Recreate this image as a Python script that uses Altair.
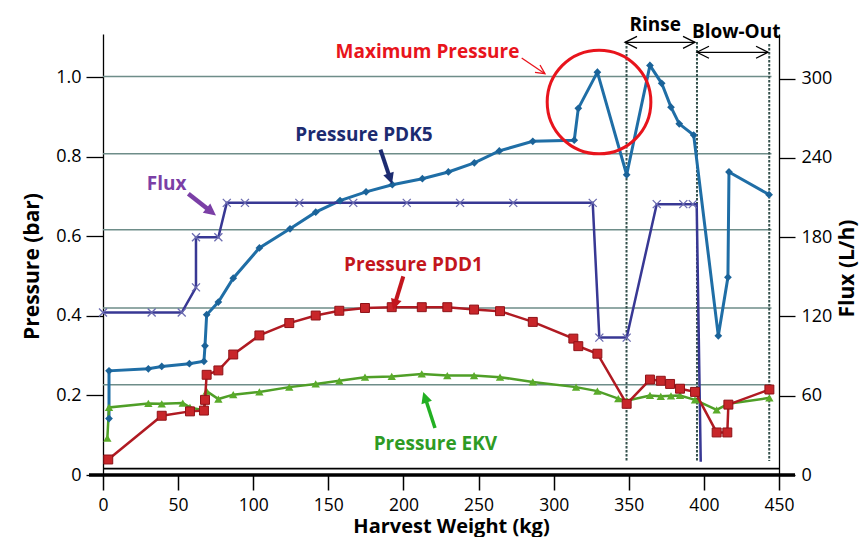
import math
import altair as alt
import pandas as pd

# ---------------- data ----------------
pdk5_kg = [4.0, 4.0, 30.2, 39.1, 57.5, 67.2, 67.9, 69.0, 76.8, 86.7,
           104.1, 124.5, 141.6, 157.8, 175.1, 192.6, 212.6, 229.9, 247.2, 263.8,
           286.1, 313.7, 316.4, 329.1, 348.6, 364.1, 371.9, 378.1, 383.6, 393.2,
           409.6, 416.0, 416.7, 443.4]
pdk5_p = [0.142, 0.262, 0.267, 0.273, 0.280, 0.286, 0.325, 0.403, 0.435, 0.495,
          0.571, 0.619, 0.661, 0.690, 0.712, 0.730, 0.745, 0.762, 0.785, 0.815,
          0.839, 0.842, 0.922, 1.013, 0.755, 1.030, 0.985, 0.925, 0.883, 0.855,
          0.350, 0.497, 0.762, 0.705]

pdd1_kg = [3.5, 39.1, 57.9, 67.2, 67.9, 69.0, 76.8, 86.7, 104.1, 124.0,
           141.6, 157.3, 174.4, 192.2, 212.2, 229.2, 247.0, 264.3, 286.1, 313.1,
           316.4, 329.1, 348.6, 364.1, 371.3, 377.5, 384.1, 394.1, 408.5, 415.6,
           416.3, 443.6]
pdd1_p = [0.039, 0.149, 0.160, 0.162, 0.189, 0.252, 0.263, 0.303, 0.351, 0.382,
          0.401, 0.413, 0.420, 0.422, 0.422, 0.422, 0.416, 0.412, 0.385, 0.343,
          0.324, 0.305, 0.179, 0.240, 0.237, 0.229, 0.217, 0.209, 0.107, 0.107,
          0.177, 0.215]

ekv_kg = [2.9, 4.0, 30.2, 39.1, 53.1, 57.9, 67.2, 69.0, 76.8, 86.7,
          104.1, 124.0, 141.6, 157.3, 174.4, 192.2, 212.2, 229.2, 247.0, 264.3,
          286.1, 314.9, 329.1, 343.0, 348.6, 364.1, 371.3, 378.1, 384.1, 394.1,
          408.5, 416.3, 443.6]
ekv_p = [0.093, 0.170, 0.180, 0.179, 0.181, 0.170, 0.162, 0.211, 0.191, 0.202,
         0.209, 0.221, 0.229, 0.237, 0.246, 0.248, 0.254, 0.250, 0.250, 0.246,
         0.234, 0.221, 0.211, 0.192, 0.187, 0.200, 0.198, 0.199, 0.200, 0.189,
         0.164, 0.179, 0.194]

flux_kg = [0.0, 32.4, 52.4, 61.9, 61.9, 76.8, 82.4, 94.5, 130.7, 166.6,
           202.2, 237.7, 273.1, 326.0, 330.4, 348.6, 368.6, 386.3, 392.6, 395.2,
           397.9]
flux_lh = [123, 123, 123, 142, 180, 180, 206, 206, 206, 206,
           206, 206, 206, 206, 104, 104, 205, 205, 205, 205,
           10]
flux_marked = [True] * 19 + [False, False]

grid_levels = [0.227, 0.420, 0.617, 0.808, 1.002]
grid_x_end = 445

phase_kg = [348.5, 395.4, 443.5]
phase_top = [1.089, 1.089, 1.084]
phase_bottom = 0.035

x_ticks = [0, 50, 100, 150, 200, 250, 300, 350, 400, 450]
p_ticks = [0, 0.2, 0.4, 0.6, 0.8, 1.0]
f_ticks = [0, 60, 120, 180, 240, 300]

labels = ["Maximum Pressure", "Pressure PDK5", "Flux", "Pressure PDD1",
          "Pressure EKV", "Rinse", "Blow-Out"]
label_kg = [216.0, 173.7, 42.4, 206.7, 221.3, 367.6, 421.5]
label_p = [1.0485, 0.8406, 0.7159, 0.5137, 0.0636, 1.1157, 1.0988]
label_color = ["#e8141c", "#1c2b70", "#7b3fa6", "#c3161d", "#2e9b24", "black", "black"]

circle_kg = [330.2]
circle_p = [0.938]

# arrows: start kg, start p, tip kg, tip p, colour, width, head kind, head length, double
arrows = [
    (56.8, 0.7073, 75.2, 0.6525, "#7b3fa6", 4.5, "filled", 12, False),
    (184.7, 0.8180, 192.4, 0.7317, "#1c2b70", 4.0, "filled", 11, False),
    (199.9, 0.4996, 193.1, 0.4149, "#c3161d", 4.0, "filled", 11, False),
    (221.0, 0.1182, 213.2, 0.2087, "#22b022", 3.5, "filled", 11, False),
    (278.7, 1.0485, 294.2, 1.0090, "#e8141c", 1.3, "open", 9, False),
    (347.5, 1.0880, 394.1, 1.0880, "black", 1.3, "open", 12, True),
    (395.4, 1.0630, 442.7, 1.0630, "black", 1.3, "open", 12, True),
]

# ---------------- layout ----------------
W, H = 676, 441
X_MAX, P_MAX, F_MAX = 450, 1.109, 333.8
FONT = "Open Sans"
TRI = "M0,0L-0.5,1L0.5,1Z"
CHEV = "M-0.5,1L0,0L0.5,1"
XMARK = "M-1,-1L1,1M-1,1L1,-1"

x_axis = alt.Axis(values=x_ticks, title="Harvest Weight (kg)", grid=False, domain=False,
                  tickSize=15, tickWidth=1.5, tickColor="black",
                  labelFont=FONT, labelFontSize=17.5, labelColor="black",
                  labelBaseline="alphabetic", labelPadding=20.5, labelFlush=False,
                  labelOverlap=False,
                  titleFont=FONT, titleFontSize=20, titleFontWeight="bold", titleColor="black",
                  titleX=348, titleY=57, titleAlign="center", titleBaseline="alphabetic")
y_axis = alt.Axis(values=p_ticks,
                  labelExpr="datum.value == 0 ? '0' : format(datum.value, '.1f')",
                  title="Pressure (bar)", grid=False,
                  domainColor="black", domainWidth=1.3,
                  tickSize=17, tickWidth=1.3, tickColor="black",
                  labelFont=FONT, labelFontSize=18, labelColor="black", labelPadding=5,
                  labelOverlap=False,
                  titleFont=FONT, titleFontSize=21, titleFontWeight="bold", titleColor="black",
                  titleAngle=270, titleX=-71, titleY=232, titleAlign="center",
                  titleBaseline="middle")
f_axis = alt.Axis(orient="right", values=f_ticks, title="Flux (L/h)", grid=False,
                  domainColor="black", domainWidth=1.3,
                  tickSize=16, tickWidth=1.3, tickColor="black",
                  labelFont=FONT, labelFontSize=18, labelColor="black", labelPadding=6,
                  labelOverlap=False,
                  titleFont=FONT, titleFontSize=21, titleFontWeight="bold", titleColor="black",
                  titleAngle=270, titleX=68, titleY=234, titleAlign="center",
                  titleBaseline="middle")


def xs():
    return alt.Scale(domain=[0, X_MAX], nice=False, zero=False)


def ys():
    return alt.Scale(domain=[0, P_MAX], nice=False, zero=False)


def fs():
    return alt.Scale(domain=[0, F_MAX], nice=False, zero=False)


def X(f):
    # identical axis definition on every layer so that the shared x axis merges cleanly
    return alt.X(f"{f}:Q", scale=xs(), axis=x_axis)


def Y(f):
    return alt.Y(f"{f}:Q", scale=ys(), axis=None)


def series(kg, vals, name):
    return pd.DataFrame({"kg": kg, name: vals, "i": list(range(len(kg)))})


pdk5_df = series(pdk5_kg, pdk5_p, "p")
pdd1_df = series(pdd1_kg, pdd1_p, "p")
ekv_df = series(ekv_kg, ekv_p, "p")
flux_df = series(flux_kg, flux_lh, "f")
flux_pts_df = flux_df[flux_marked]

grid_df = pd.DataFrame({"g": grid_levels, "x0": 0, "x1": grid_x_end})
phase_df = pd.DataFrame({"kg": phase_kg, "top": phase_top, "bot": phase_bottom})
label_df = pd.DataFrame({"label": labels, "kg": label_kg, "p": label_p, "color": label_color})
circle_df = pd.DataFrame({"kg": circle_kg, "p": circle_p})

# arrows -> line segments and heads
sx, sy = W / X_MAX, H / P_MAX
rule_rows, head_f, head_o = [], [], []
for (x1, y1, x2, y2, col, w, kind, L, dbl) in arrows:
    dx, dy = (x2 - x1) * sx, -(y2 - y1) * sy
    d = math.hypot(dx, dy)
    ux, uy = dx / d, dy / d
    back = L * 0.6 if kind == "filled" else 0
    ex, ey = x2 - ux * back / sx, y2 + uy * back / sy
    rule_rows.append({"x1": x1, "y1": y1, "x2": ex, "y2": ey, "color": col, "w": w})
    ang = math.degrees(math.atan2(ux, -uy)) % 360
    tgt = head_f if kind == "filled" else head_o
    tgt.append({"x": x2, "y": y2, "angle": ang, "size": (2 * L) ** 2, "color": col, "w": w})
    if dbl:
        tgt.append({"x": x1, "y": y1, "angle": (ang + 180) % 360, "size": (2 * L) ** 2,
                    "color": col, "w": w})
rule_df = pd.DataFrame(rule_rows)
head_f_df = pd.DataFrame(head_f)
head_o_df = pd.DataFrame(head_o)

one = alt.Data(values=[{}])

pdk5_line = alt.Chart(pdk5_df).mark_line(color="#1f6ea6", strokeWidth=3).encode(
    x=X("kg"), y=alt.Y("p:Q", scale=ys(), axis=y_axis), order="i:Q")
flux_line = alt.Chart(flux_df).mark_line(color="#383894", strokeWidth=2.5).encode(
    x=X("kg"), y=alt.Y("f:Q", scale=fs(), axis=f_axis), order="i:Q")

grid = alt.Chart(grid_df).mark_rule(color="#6e8d89", strokeWidth=1.5).encode(
    x=X("x0"), x2="x1:Q", y=Y("g"))
phase = alt.Chart(phase_df).mark_rule(color="#34514c", strokeWidth=2,
                                      strokeDash=[2.5, 1.5]).encode(
    x=X("kg"), y=Y("top"), y2="bot:Q")
axis_thin = alt.Chart(one).mark_rule(color="black", strokeWidth=1.7).encode(
    x=alt.value(0), x2=alt.value(W), y=alt.value(H - 6.3))
axis_bold = alt.Chart(one).mark_rule(color="black", strokeWidth=3.3).encode(
    x=alt.value(-14), x2=alt.value(W + 16), y=alt.value(H))

ekv_line = alt.Chart(ekv_df).mark_line(color="#4f9f27", strokeWidth=2.5).encode(
    x=X("kg"), y=Y("p"), order="i:Q")
ekv_pts = alt.Chart(ekv_df).mark_point(shape="triangle-up", filled=True, size=70,
                                       color="#5aab2a", opacity=1).encode(x=X("kg"), y=Y("p"))
pdd1_line = alt.Chart(pdd1_df).mark_line(color="#b01a22", strokeWidth=2.5).encode(
    x=X("kg"), y=Y("p"), order="i:Q")
pdd1_pts = alt.Chart(pdd1_df).mark_point(shape="square", filled=True, size=80,
                                         fill="#c8262a", stroke="#8f1217", strokeWidth=1,
                                         opacity=1).encode(x=X("kg"), y=Y("p"))
pdk5_pts = alt.Chart(pdk5_df).mark_point(shape="diamond", filled=True, size=60,
                                         color="#1b6399", opacity=1).encode(x=X("kg"), y=Y("p"))
flux_pts = alt.Chart(flux_pts_df).mark_point(shape=XMARK, filled=False, size=64,
                                             color="#6b6bb0", strokeWidth=1.3,
                                             opacity=1).encode(
    x=X("kg"), y=alt.Y("f:Q", scale=fs(), axis=None))

circle = alt.Chart(circle_df).mark_point(shape="circle", filled=False,
                                         size=math.pi * 58.5 ** 2, color="#e8141c",
                                         strokeWidth=3, opacity=1).encode(x=X("kg"), y=Y("p"))

arrow_lines = alt.Chart(rule_df).mark_rule().encode(
    x=X("x1"), y=Y("y1"), x2="x2:Q", y2="y2:Q",
    color=alt.Color("color:N", scale=None),
    strokeWidth=alt.StrokeWidth("w:Q", scale=None))
arrow_heads_f = alt.Chart(head_f_df).mark_point(shape=TRI, filled=True, opacity=1).encode(
    x=X("x"), y=Y("y"),
    angle=alt.Angle("angle:Q", scale=None),
    size=alt.Size("size:Q", scale=None),
    color=alt.Color("color:N", scale=None))
arrow_heads_o = alt.Chart(head_o_df).mark_point(shape=CHEV, filled=False, opacity=1).encode(
    x=X("x"), y=Y("y"),
    angle=alt.Angle("angle:Q", scale=None),
    size=alt.Size("size:Q", scale=None),
    color=alt.Color("color:N", scale=None),
    strokeWidth=alt.StrokeWidth("w:Q", scale=None))

texts = alt.Chart(label_df).mark_text(font=FONT, fontSize=19, fontWeight="bold",
                                      align="center", baseline="alphabetic").encode(
    x=X("kg"), y=Y("p"), text="label:N", color=alt.Color("color:N", scale=None))

chart = alt.layer(
    grid, phase, axis_thin, axis_bold, pdk5_line, flux_line,
    ekv_line, ekv_pts, pdd1_line, pdd1_pts, pdk5_pts, flux_pts,
    circle, arrow_lines, arrow_heads_f, arrow_heads_o, texts,
).resolve_scale(y="independent").properties(
    width=W, height=H,
    padding={"left": 95, "top": 26, "right": 80, "bottom": 62},
    autosize=alt.AutoSizeParams(type="none"),
    background="white",
).configure_view(stroke=None)

chart.save("out.html", embed_options={"renderer": "svg", "actions": False})
